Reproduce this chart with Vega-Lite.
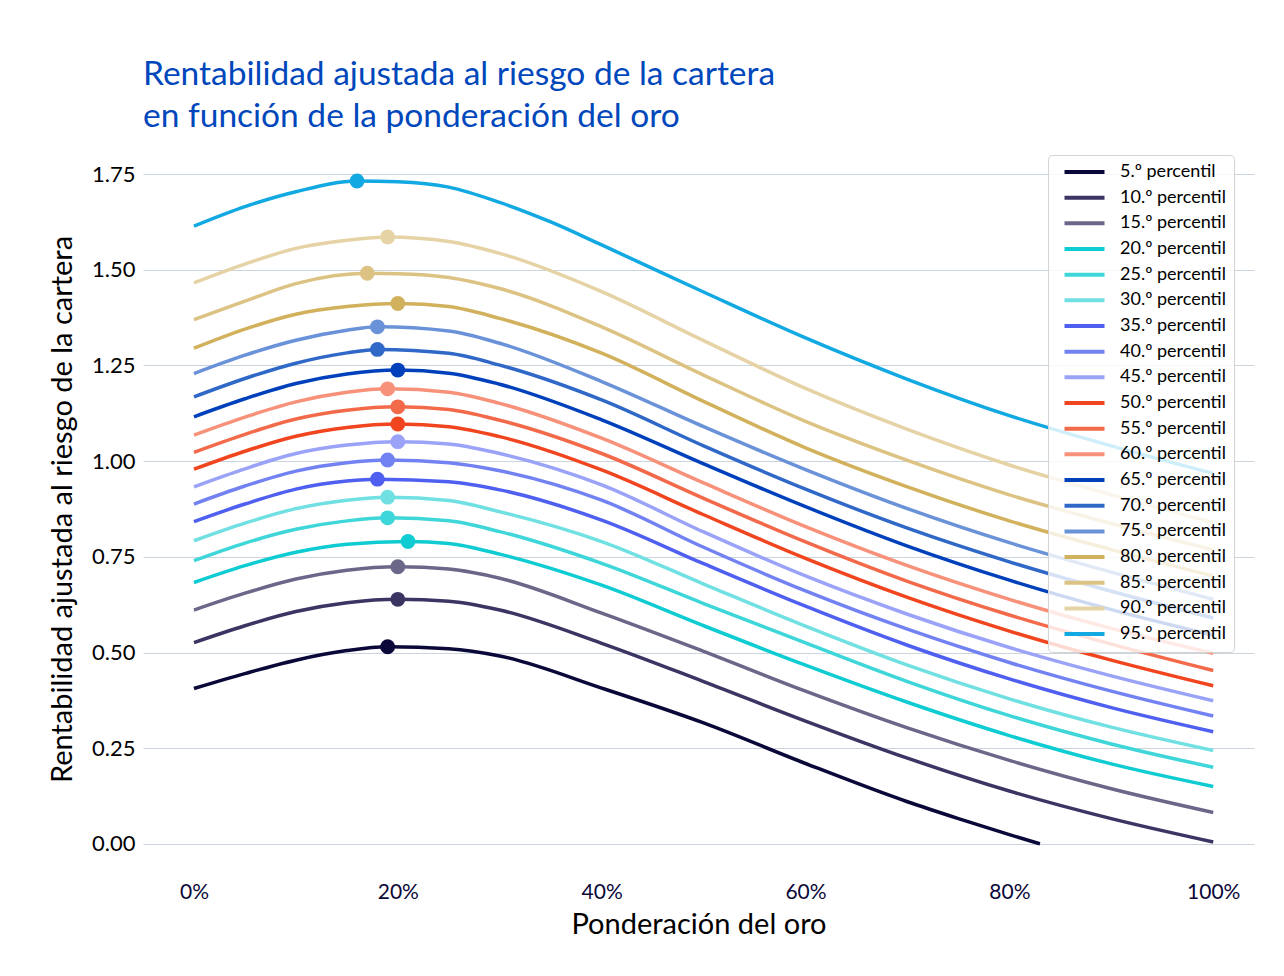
{
  "$schema": "https://vega.github.io/schema/vega-lite/v6.json",
  "width": 1111,
  "height": 708,
  "autosize": "none",
  "padding": {"left": 143, "top": 155, "right": 30, "bottom": 113},
  "background": "white",
  "title": {
    "text": ["Rentabilidad ajustada al riesgo de la cartera", "en función de la ponderación del oro"],
    "anchor": "start",
    "frame": "group",
    "font": "Lato",
    "fontSize": 33.5,
    "fontWeight": "normal",
    "color": "#0047bb",
    "lineHeight": 42,
    "offset": 20
  },
  "datasets": {
    "lines": [
      {"s":"95.º percentil","x":0,"y":1.614},{"s":"95.º percentil","x":0.05,"y":1.665},{"s":"95.º percentil","x":0.1,"y":1.704},{"s":"95.º percentil","x":0.16,"y":1.732},{"s":"95.º percentil","x":0.2,"y":1.730},{"s":"95.º percentil","x":0.25,"y":1.716},{"s":"95.º percentil","x":0.3,"y":1.676},{"s":"95.º percentil","x":0.35,"y":1.625},{"s":"95.º percentil","x":0.4,"y":1.565},{"s":"95.º percentil","x":0.5,"y":1.442},{"s":"95.º percentil","x":0.6,"y":1.322},{"s":"95.º percentil","x":0.7,"y":1.214},{"s":"95.º percentil","x":0.8,"y":1.119},{"s":"95.º percentil","x":0.9,"y":1.040},{"s":"95.º percentil","x":1,"y":0.968},
      {"s":"90.º percentil","x":0,"y":1.466},{"s":"90.º percentil","x":0.05,"y":1.515},{"s":"90.º percentil","x":0.1,"y":1.556},{"s":"90.º percentil","x":0.15,"y":1.577},{"s":"90.º percentil","x":0.19,"y":1.586},{"s":"90.º percentil","x":0.25,"y":1.574},{"s":"90.º percentil","x":0.3,"y":1.543},{"s":"90.º percentil","x":0.4,"y":1.443},{"s":"90.º percentil","x":0.5,"y":1.315},{"s":"90.º percentil","x":0.6,"y":1.190},{"s":"90.º percentil","x":0.7,"y":1.083},{"s":"90.º percentil","x":0.8,"y":0.990},{"s":"90.º percentil","x":0.9,"y":0.912},{"s":"90.º percentil","x":1,"y":0.839},
      {"s":"85.º percentil","x":0,"y":1.370},{"s":"85.º percentil","x":0.05,"y":1.418},{"s":"85.º percentil","x":0.1,"y":1.464},{"s":"85.º percentil","x":0.17,"y":1.491},{"s":"85.º percentil","x":0.2,"y":1.490},{"s":"85.º percentil","x":0.25,"y":1.480},{"s":"85.º percentil","x":0.3,"y":1.451},{"s":"85.º percentil","x":0.4,"y":1.351},{"s":"85.º percentil","x":0.5,"y":1.225},{"s":"85.º percentil","x":0.6,"y":1.104},{"s":"85.º percentil","x":0.7,"y":1.002},{"s":"85.º percentil","x":0.8,"y":0.912},{"s":"85.º percentil","x":0.9,"y":0.837},{"s":"85.º percentil","x":1,"y":0.768},
      {"s":"80.º percentil","x":0,"y":1.295},{"s":"80.º percentil","x":0.05,"y":1.345},{"s":"80.º percentil","x":0.1,"y":1.384},{"s":"80.º percentil","x":0.15,"y":1.404},{"s":"80.º percentil","x":0.2,"y":1.412},{"s":"80.º percentil","x":0.25,"y":1.404},{"s":"80.º percentil","x":0.3,"y":1.373},{"s":"80.º percentil","x":0.4,"y":1.282},{"s":"80.º percentil","x":0.5,"y":1.156},{"s":"80.º percentil","x":0.6,"y":1.035},{"s":"80.º percentil","x":0.7,"y":0.933},{"s":"80.º percentil","x":0.8,"y":0.844},{"s":"80.º percentil","x":0.9,"y":0.769},{"s":"80.º percentil","x":1,"y":0.700},
      {"s":"75.º percentil","x":0,"y":1.229},{"s":"75.º percentil","x":0.05,"y":1.277},{"s":"75.º percentil","x":0.1,"y":1.316},{"s":"75.º percentil","x":0.15,"y":1.342},{"s":"75.º percentil","x":0.18,"y":1.351},{"s":"75.º percentil","x":0.25,"y":1.340},{"s":"75.º percentil","x":0.3,"y":1.308},{"s":"75.º percentil","x":0.4,"y":1.208},{"s":"75.º percentil","x":0.5,"y":1.090},{"s":"75.º percentil","x":0.6,"y":0.978},{"s":"75.º percentil","x":0.7,"y":0.876},{"s":"75.º percentil","x":0.8,"y":0.787},{"s":"75.º percentil","x":0.9,"y":0.710},{"s":"75.º percentil","x":1,"y":0.639},
      {"s":"70.º percentil","x":0,"y":1.168},{"s":"70.º percentil","x":0.05,"y":1.216},{"s":"70.º percentil","x":0.1,"y":1.256},{"s":"70.º percentil","x":0.15,"y":1.283},{"s":"70.º percentil","x":0.18,"y":1.292},{"s":"70.º percentil","x":0.25,"y":1.282},{"s":"70.º percentil","x":0.3,"y":1.251},{"s":"70.º percentil","x":0.4,"y":1.160},{"s":"70.º percentil","x":0.5,"y":1.040},{"s":"70.º percentil","x":0.6,"y":0.927},{"s":"70.º percentil","x":0.7,"y":0.825},{"s":"70.º percentil","x":0.8,"y":0.737},{"s":"70.º percentil","x":0.9,"y":0.660},{"s":"70.º percentil","x":1,"y":0.590},
      {"s":"65.º percentil","x":0,"y":1.116},{"s":"65.º percentil","x":0.05,"y":1.163},{"s":"65.º percentil","x":0.1,"y":1.203},{"s":"65.º percentil","x":0.15,"y":1.228},{"s":"65.º percentil","x":0.2,"y":1.238},{"s":"65.º percentil","x":0.25,"y":1.230},{"s":"65.º percentil","x":0.3,"y":1.201},{"s":"65.º percentil","x":0.4,"y":1.108},{"s":"65.º percentil","x":0.5,"y":0.993},{"s":"65.º percentil","x":0.6,"y":0.881},{"s":"65.º percentil","x":0.7,"y":0.778},{"s":"65.º percentil","x":0.8,"y":0.689},{"s":"65.º percentil","x":0.9,"y":0.612},{"s":"65.º percentil","x":1,"y":0.545},
      {"s":"60.º percentil","x":0,"y":1.068},{"s":"60.º percentil","x":0.05,"y":1.115},{"s":"60.º percentil","x":0.1,"y":1.155},{"s":"60.º percentil","x":0.15,"y":1.180},{"s":"60.º percentil","x":0.19,"y":1.189},{"s":"60.º percentil","x":0.25,"y":1.180},{"s":"60.º percentil","x":0.3,"y":1.151},{"s":"60.º percentil","x":0.4,"y":1.060},{"s":"60.º percentil","x":0.5,"y":0.943},{"s":"60.º percentil","x":0.6,"y":0.829},{"s":"60.º percentil","x":0.7,"y":0.727},{"s":"60.º percentil","x":0.8,"y":0.639},{"s":"60.º percentil","x":0.9,"y":0.563},{"s":"60.º percentil","x":1,"y":0.498},
      {"s":"55.º percentil","x":0,"y":1.023},{"s":"55.º percentil","x":0.05,"y":1.070},{"s":"55.º percentil","x":0.1,"y":1.110},{"s":"55.º percentil","x":0.15,"y":1.133},{"s":"55.º percentil","x":0.2,"y":1.142},{"s":"55.º percentil","x":0.25,"y":1.135},{"s":"55.º percentil","x":0.3,"y":1.107},{"s":"55.º percentil","x":0.4,"y":1.020},{"s":"55.º percentil","x":0.5,"y":0.903},{"s":"55.º percentil","x":0.6,"y":0.789},{"s":"55.º percentil","x":0.7,"y":0.686},{"s":"55.º percentil","x":0.8,"y":0.598},{"s":"55.º percentil","x":0.9,"y":0.522},{"s":"55.º percentil","x":1,"y":0.453},
      {"s":"50.º percentil","x":0,"y":0.979},{"s":"50.º percentil","x":0.05,"y":1.026},{"s":"50.º percentil","x":0.1,"y":1.065},{"s":"50.º percentil","x":0.15,"y":1.088},{"s":"50.º percentil","x":0.2,"y":1.097},{"s":"50.º percentil","x":0.25,"y":1.090},{"s":"50.º percentil","x":0.3,"y":1.064},{"s":"50.º percentil","x":0.4,"y":0.977},{"s":"50.º percentil","x":0.5,"y":0.860},{"s":"50.º percentil","x":0.6,"y":0.746},{"s":"50.º percentil","x":0.7,"y":0.644},{"s":"50.º percentil","x":0.8,"y":0.556},{"s":"50.º percentil","x":0.9,"y":0.480},{"s":"50.º percentil","x":1,"y":0.413},
      {"s":"45.º percentil","x":0,"y":0.933},{"s":"45.º percentil","x":0.05,"y":0.980},{"s":"45.º percentil","x":0.1,"y":1.020},{"s":"45.º percentil","x":0.15,"y":1.042},{"s":"45.º percentil","x":0.2,"y":1.051},{"s":"45.º percentil","x":0.25,"y":1.045},{"s":"45.º percentil","x":0.3,"y":1.020},{"s":"45.º percentil","x":0.4,"y":0.938},{"s":"45.º percentil","x":0.5,"y":0.815},{"s":"45.º percentil","x":0.6,"y":0.700},{"s":"45.º percentil","x":0.7,"y":0.600},{"s":"45.º percentil","x":0.8,"y":0.513},{"s":"45.º percentil","x":0.9,"y":0.439},{"s":"45.º percentil","x":1,"y":0.374},
      {"s":"40.º percentil","x":0,"y":0.888},{"s":"40.º percentil","x":0.05,"y":0.935},{"s":"40.º percentil","x":0.1,"y":0.974},{"s":"40.º percentil","x":0.15,"y":0.996},{"s":"40.º percentil","x":0.19,"y":1.003},{"s":"40.º percentil","x":0.25,"y":0.996},{"s":"40.º percentil","x":0.3,"y":0.975},{"s":"40.º percentil","x":0.4,"y":0.898},{"s":"40.º percentil","x":0.5,"y":0.775},{"s":"40.º percentil","x":0.6,"y":0.661},{"s":"40.º percentil","x":0.7,"y":0.561},{"s":"40.º percentil","x":0.8,"y":0.474},{"s":"40.º percentil","x":0.9,"y":0.399},{"s":"40.º percentil","x":1,"y":0.334},
      {"s":"35.º percentil","x":0,"y":0.842},{"s":"35.º percentil","x":0.05,"y":0.888},{"s":"35.º percentil","x":0.1,"y":0.927},{"s":"35.º percentil","x":0.15,"y":0.948},{"s":"35.º percentil","x":0.18,"y":0.953},{"s":"35.º percentil","x":0.25,"y":0.946},{"s":"35.º percentil","x":0.3,"y":0.925},{"s":"35.º percentil","x":0.4,"y":0.846},{"s":"35.º percentil","x":0.5,"y":0.732},{"s":"35.º percentil","x":0.6,"y":0.621},{"s":"35.º percentil","x":0.7,"y":0.519},{"s":"35.º percentil","x":0.8,"y":0.431},{"s":"35.º percentil","x":0.9,"y":0.356},{"s":"35.º percentil","x":1,"y":0.293},
      {"s":"30.º percentil","x":0,"y":0.792},{"s":"30.º percentil","x":0.05,"y":0.838},{"s":"30.º percentil","x":0.1,"y":0.876},{"s":"30.º percentil","x":0.15,"y":0.898},{"s":"30.º percentil","x":0.19,"y":0.906},{"s":"30.º percentil","x":0.25,"y":0.897},{"s":"30.º percentil","x":0.3,"y":0.868},{"s":"30.º percentil","x":0.4,"y":0.790},{"s":"30.º percentil","x":0.5,"y":0.679},{"s":"30.º percentil","x":0.6,"y":0.569},{"s":"30.º percentil","x":0.7,"y":0.467},{"s":"30.º percentil","x":0.8,"y":0.379},{"s":"30.º percentil","x":0.9,"y":0.305},{"s":"30.º percentil","x":1,"y":0.244},
      {"s":"25.º percentil","x":0,"y":0.740},{"s":"25.º percentil","x":0.05,"y":0.786},{"s":"25.º percentil","x":0.1,"y":0.822},{"s":"25.º percentil","x":0.15,"y":0.844},{"s":"25.º percentil","x":0.19,"y":0.852},{"s":"25.º percentil","x":0.25,"y":0.844},{"s":"25.º percentil","x":0.3,"y":0.816},{"s":"25.º percentil","x":0.4,"y":0.733},{"s":"25.º percentil","x":0.5,"y":0.628},{"s":"25.º percentil","x":0.6,"y":0.525},{"s":"25.º percentil","x":0.7,"y":0.424},{"s":"25.º percentil","x":0.8,"y":0.335},{"s":"25.º percentil","x":0.9,"y":0.261},{"s":"25.º percentil","x":1,"y":0.200},
      {"s":"20.º percentil","x":0,"y":0.683},{"s":"20.º percentil","x":0.05,"y":0.727},{"s":"20.º percentil","x":0.1,"y":0.762},{"s":"20.º percentil","x":0.15,"y":0.783},{"s":"20.º percentil","x":0.21,"y":0.790},{"s":"20.º percentil","x":0.25,"y":0.785},{"s":"20.º percentil","x":0.3,"y":0.757},{"s":"20.º percentil","x":0.4,"y":0.676},{"s":"20.º percentil","x":0.5,"y":0.570},{"s":"20.º percentil","x":0.6,"y":0.467},{"s":"20.º percentil","x":0.7,"y":0.370},{"s":"20.º percentil","x":0.8,"y":0.283},{"s":"20.º percentil","x":0.9,"y":0.209},{"s":"20.º percentil","x":1,"y":0.150},
      {"s":"15.º percentil","x":0,"y":0.611},{"s":"15.º percentil","x":0.05,"y":0.655},{"s":"15.º percentil","x":0.1,"y":0.692},{"s":"15.º percentil","x":0.15,"y":0.715},{"s":"15.º percentil","x":0.2,"y":0.724},{"s":"15.º percentil","x":0.25,"y":0.718},{"s":"15.º percentil","x":0.3,"y":0.694},{"s":"15.º percentil","x":0.4,"y":0.603},{"s":"15.º percentil","x":0.5,"y":0.503},{"s":"15.º percentil","x":0.6,"y":0.399},{"s":"15.º percentil","x":0.7,"y":0.303},{"s":"15.º percentil","x":0.8,"y":0.218},{"s":"15.º percentil","x":0.9,"y":0.144},{"s":"15.º percentil","x":1,"y":0.082},
      {"s":"10.º percentil","x":0,"y":0.526},{"s":"10.º percentil","x":0.05,"y":0.570},{"s":"10.º percentil","x":0.1,"y":0.607},{"s":"10.º percentil","x":0.15,"y":0.630},{"s":"10.º percentil","x":0.2,"y":0.639},{"s":"10.º percentil","x":0.25,"y":0.634},{"s":"10.º percentil","x":0.3,"y":0.611},{"s":"10.º percentil","x":0.4,"y":0.524},{"s":"10.º percentil","x":0.5,"y":0.424},{"s":"10.º percentil","x":0.6,"y":0.321},{"s":"10.º percentil","x":0.7,"y":0.224},{"s":"10.º percentil","x":0.8,"y":0.138},{"s":"10.º percentil","x":0.9,"y":0.066},{"s":"10.º percentil","x":1,"y":0.005},
      {"s":"5.º percentil","x":0,"y":0.406},{"s":"5.º percentil","x":0.05,"y":0.445},{"s":"5.º percentil","x":0.1,"y":0.480},{"s":"5.º percentil","x":0.15,"y":0.505},{"s":"5.º percentil","x":0.19,"y":0.515},{"s":"5.º percentil","x":0.25,"y":0.510},{"s":"5.º percentil","x":0.3,"y":0.491},{"s":"5.º percentil","x":0.4,"y":0.407},{"s":"5.º percentil","x":0.5,"y":0.316},{"s":"5.º percentil","x":0.6,"y":0.210},{"s":"5.º percentil","x":0.7,"y":0.110},{"s":"5.º percentil","x":0.75,"y":0.066},{"s":"5.º percentil","x":0.8,"y":0.024},{"s":"5.º percentil","x":0.83,"y":0.0}
    ],
    "peaks": [
      {"s":"95.º percentil","x":0.16,"y":1.732},
      {"s":"90.º percentil","x":0.19,"y":1.586},
      {"s":"85.º percentil","x":0.17,"y":1.491},
      {"s":"80.º percentil","x":0.2,"y":1.412},
      {"s":"75.º percentil","x":0.18,"y":1.351},
      {"s":"70.º percentil","x":0.18,"y":1.292},
      {"s":"65.º percentil","x":0.2,"y":1.238},
      {"s":"60.º percentil","x":0.19,"y":1.189},
      {"s":"55.º percentil","x":0.2,"y":1.142},
      {"s":"50.º percentil","x":0.2,"y":1.097},
      {"s":"45.º percentil","x":0.2,"y":1.051},
      {"s":"40.º percentil","x":0.19,"y":1.003},
      {"s":"35.º percentil","x":0.18,"y":0.953},
      {"s":"30.º percentil","x":0.19,"y":0.906},
      {"s":"25.º percentil","x":0.19,"y":0.852},
      {"s":"20.º percentil","x":0.21,"y":0.790},
      {"s":"15.º percentil","x":0.2,"y":0.724},
      {"s":"10.º percentil","x":0.2,"y":0.639},
      {"s":"5.º percentil","x":0.19,"y":0.515}
    ]
  },
  "encoding": {
    "x": {
      "field": "x",
      "type": "quantitative",
      "scale": {"domain": [-0.05, 1.04], "nice": false, "zero": false},
      "axis": {
        "title": "Ponderación del oro",
        "values": [0, 0.2, 0.4, 0.6, 0.8, 1],
        "format": ".0%",
        "grid": false,
        "domain": false,
        "ticks": false,
        "labelFontSize": 21,
        "labelColor": "#0a0838",
        "labelPadding": 18,
        "titleFontSize": 29,
        "titlePadding": 8
      }
    },
    "y": {
      "field": "y",
      "type": "quantitative",
      "scale": {"domain": [-0.05, 1.8], "nice": false, "zero": false},
      "axis": {
        "title": "Rentabilidad ajustada al riesgo de la cartera",
        "values": [0, 0.25, 0.5, 0.75, 1, 1.25, 1.5, 1.75],
        "format": ".2f",
        "grid": true,
        "gridColor": "#ccd5de",
        "gridWidth": 1.2,
        "domain": false,
        "ticks": false,
        "labelFontSize": 22,
        "labelColor": "#000000",
        "labelPadding": 8,
        "titleFontSize": 29,
        "titlePadding": 14
      }
    },
    "color": {
      "field": "s",
      "type": "nominal",
      "scale": {
        "domain": ["5.º percentil","10.º percentil","15.º percentil","20.º percentil","25.º percentil","30.º percentil","35.º percentil","40.º percentil","45.º percentil","50.º percentil","55.º percentil","60.º percentil","65.º percentil","70.º percentil","75.º percentil","80.º percentil","85.º percentil","90.º percentil","95.º percentil"],
        "range": ["#0a0838","#3a3562","#6b6789","#0fcbd2","#3fd6d9","#70e0e2","#4f5ff0","#7382f2","#9aa3f7","#f1451f","#f36a4b","#f7917a","#0041bb","#3068c8","#6a92d8","#d2b15c","#ddc383","#e6d3a5","#12a9e2"]
      },
      "legend": {
        "title": null,
        "orient": "none",
        "legendX": 905,
        "legendY": 0,
        "symbolType": "M-4,0H4",
        "symbolStrokeWidth": 4,
        "symbolSize": 100,
        "symbolFillColor": "transparent",
        "symbolOffset": 19.5,
        "labelFontSize": 18,
        "labelOffset": 26.5,
        "rowPadding": 7.67,
        "padding": 8,
        "fillColor": "rgba(255,255,255,0.8)",
        "strokeColor": "#d4d4d4",
        "cornerRadius": 4
      }
    }
  },
  "layer": [
    {
      "data": {"name": "lines"},
      "mark": {"type": "line", "strokeWidth": 3.5, "interpolate": "monotone"}
    },
    {
      "data": {"name": "peaks"},
      "mark": {"type": "circle", "size": 220, "opacity": 1}
    }
  ],
  "config": {
    "font": "Lato",
    "view": {"stroke": null},
    "axis": {"titleFontWeight": "normal", "titleColor": "#000000", "labelFont": "Lato", "titleFont": "Lato"},
    "legend": {"labelFont": "Lato", "labelColor": "#000000"}
  }
}
